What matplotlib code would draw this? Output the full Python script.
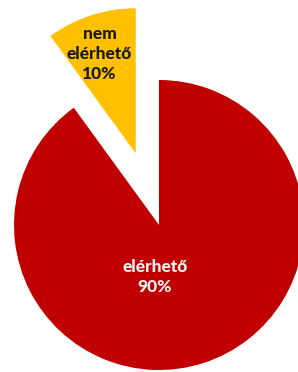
import matplotlib.pyplot as plt

# data
labels = ['nem\nelérhető', 'elérhető']
shares = [10, 90]
colors = ['#FFC000', '#C00000']
text_colors = ['#1a1a1a', '#f2f2f2']

# label spots (radius units)
label_xy = [(-0.41, 1.18), (-0.03, -0.36)]

fig = plt.figure(figsize=(2.98, 3.72), dpi=100)
ax = fig.add_axes([0, 0, 1, 1])

ax.pie(shares, colors=colors, startangle=90, counterclock=True,
       explode=[0.52, 0], radius=1, wedgeprops=dict(linewidth=0))

for lab, val, (x, y), c in zip(labels, shares, label_xy, text_colors):
    ax.text(x, y, f'{lab}\n{val}%', ha='center', va='center', color=c,
            fontsize=12.5, fontweight='black', family=['Lato', 'DejaVu Sans'],
            linespacing=1.3)

ax.set_xlim(-159/145, 139/145)
ax.set_ylim(-147/145, 225/145)
ax.set_aspect('equal')
ax.axis('off')

fig.savefig('out.png', dpi=100)
